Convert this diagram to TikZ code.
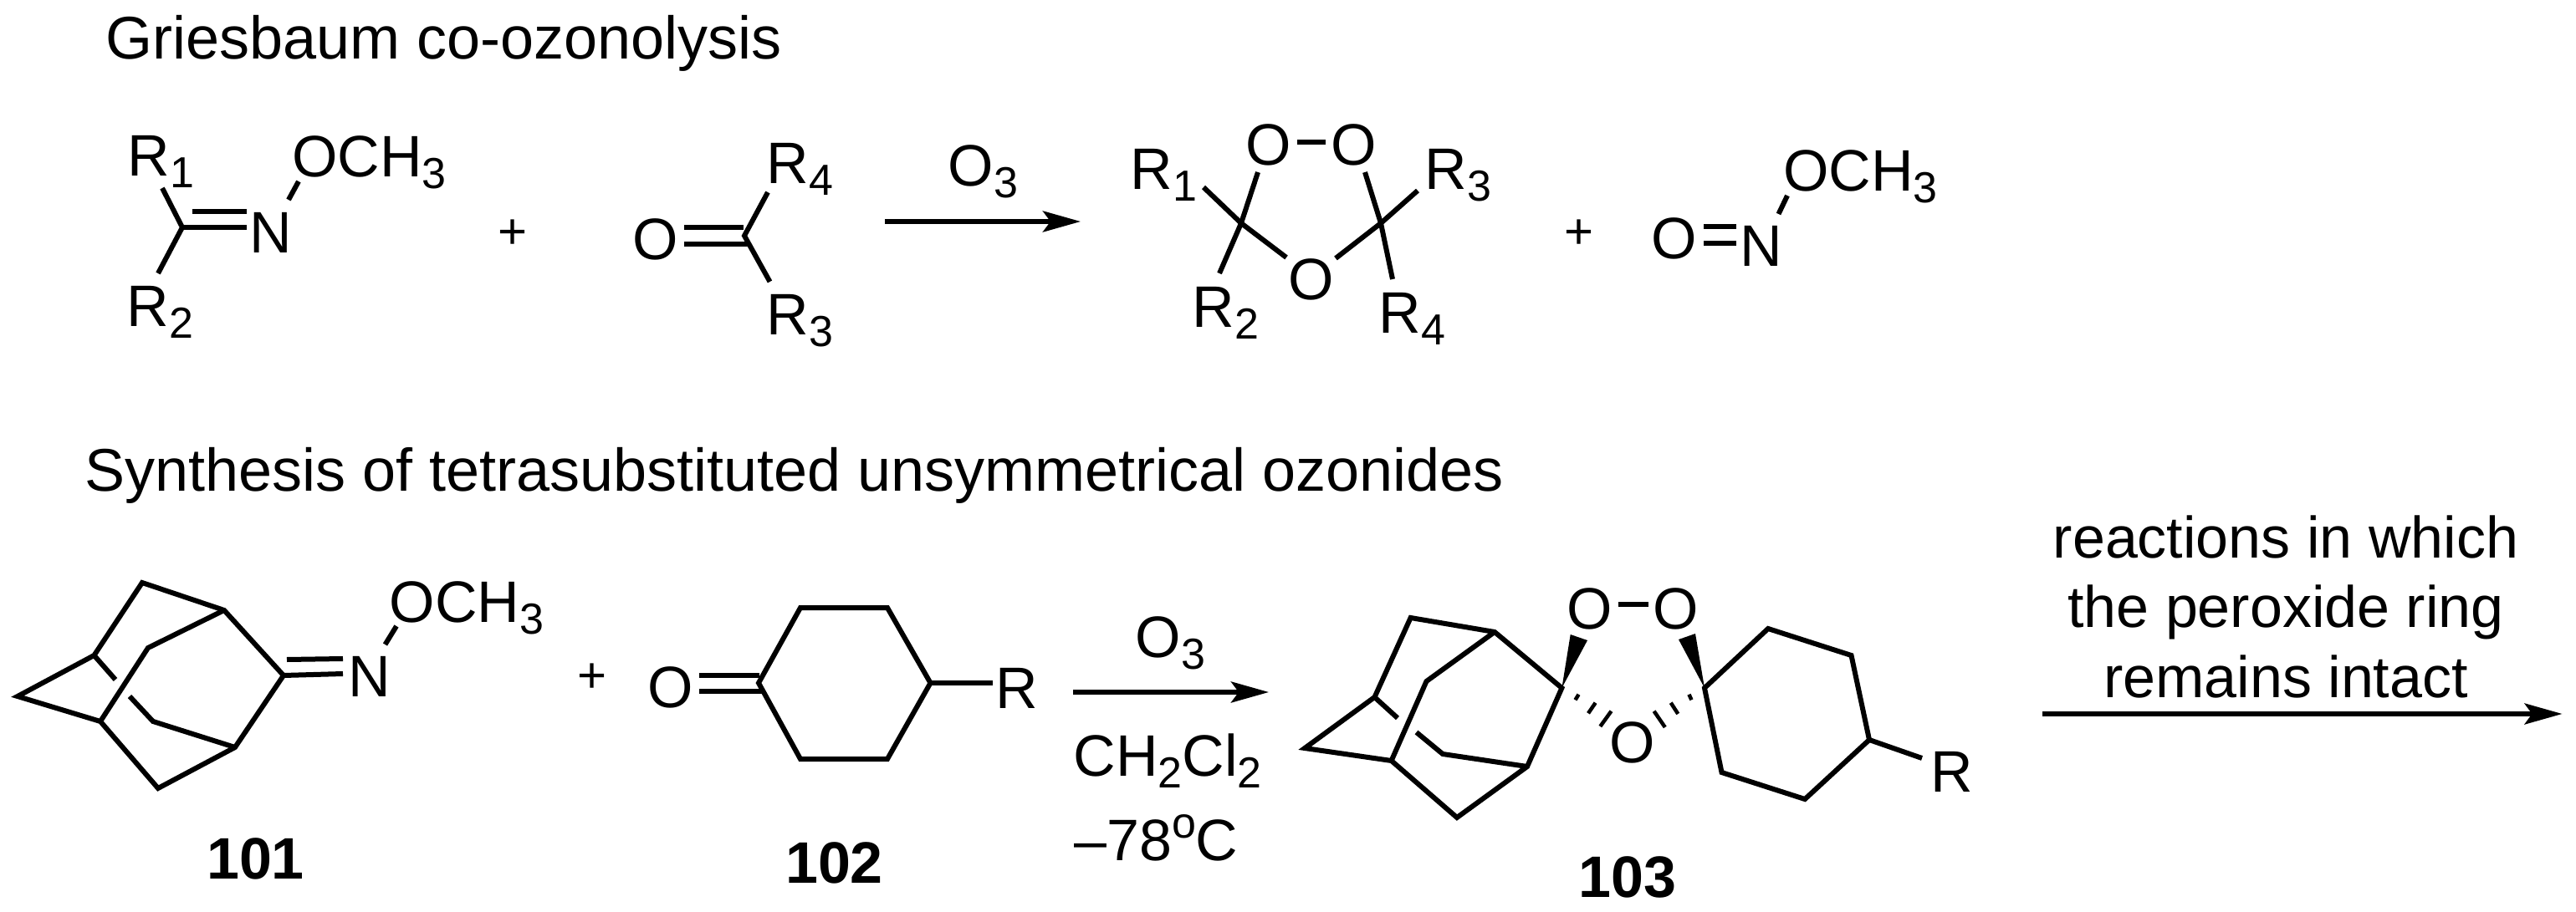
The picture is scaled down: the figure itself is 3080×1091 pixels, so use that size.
\documentclass[tikz,border=0pt]{standalone}
\usepackage{fontspec}
\setmainfont{Liberation Sans}
\usetikzlibrary{arrows.meta}
\newcommand\chemfont{\fontsize{70}{83.5}\selectfont}
\newcommand\titlefont{\fontsize{72}{84}\selectfont}
\newcommand\plusfont{\fontsize{60}{70}\selectfont}
\newcommand\Sub[1]{\raisebox{-14pt}{\fontsize{52}{60}\selectfont #1}}
\newcommand\Deg{\raisebox{27pt}{\fontsize{52}{60}\selectfont o}}
\tikzset{
  lbl/.style={inner sep=0pt,anchor=base west,font=\chemfont},
  ttl/.style={inner sep=0pt,anchor=base west,font=\titlefont},
  atom/.style={inner sep=0pt,anchor=base,font=\chemfont},
  cmpd/.style={inner sep=0pt,anchor=base,font=\chemfont\bfseries},
  plussign/.style={inner sep=0pt,anchor=center,font=\plusfont},
  bond/.style={line width=6pt,line join=miter,line cap=butt},
  hashbond/.style={line width=4.5pt,line cap=butt},
  wedgebond/.style={fill=black,draw=none},
  rxn/.style={line width=5.5pt,-{Stealth[length=45pt,width=25pt,inset=9pt]}}
}
\begin{document}
\begin{tikzpicture}[x=1pt,y=-1pt]
\path[use as bounding box,fill=white] (0,0) rectangle (3080,1091);
% titles
\node[ttl] (t1) at (126,71) {Griesbaum co-ozonolysis};
\node[ttl] (t2) at (101,587) {Synthesis of tetrasubstituted unsymmetrical ozonides};
% --- top: imine
\node[lbl] (R1a) at (152.5,211) {R\Sub{1}};
\node[lbl] (R2a) at (151.5,390) {R\Sub{2}};
\node[lbl] (Na) at (298.7,302) {N};
\node[lbl] (OMa) at (349,212) {OCH\Sub{3}};
\coordinate (Ca) at (218,272);
\coordinate (Ca1) at (194,225);
\coordinate (Ca2) at (189,327);
\coordinate (Nb1) at (230,253);
\coordinate (Nb2) at (295,253);
\coordinate (Nb3) at (295,272);
\coordinate (Oa1) at (345,239);
\coordinate (Oa2) at (357,217);
\draw[bond] (Ca1) -- (Ca) -- (Ca2);
\draw[bond] (Ca) -- (Nb3);
\draw[bond] (Nb1) -- (Nb2);
\draw[bond] (Oa1) -- (Oa2);
\node[plussign] (p1) at (613,280) {+};
% --- top: ketone
\node[atom] (Ob) at (784,310) {O};
\node[lbl] (R4b) at (916.5,220) {R\Sub{4}};
\node[lbl] (R3b) at (916.5,400) {R\Sub{3}};
\coordinate (Cb) at (890,282);
\coordinate (Cb1) at (918,230);
\coordinate (Cb2) at (920.5,337);
\coordinate (Ob1) at (818,272);
\coordinate (Ob2) at (889,272);
\coordinate (Ob3) at (818,292);
\coordinate (Ob4) at (896,292);
\draw[bond] (Cb1) -- (Cb) -- (Cb2);
\draw[bond] (Ob1) -- (Ob2);
\draw[bond] (Ob3) -- (Ob4);
% --- top arrow
\node[lbl] (O3a) at (1133.7,223) {O\Sub{3}};
\coordinate (A1s) at (1058,265);
\coordinate (A1e) at (1292,265);
\draw[rxn] (A1s) -- (A1e);
% --- top: ozonide
\node[lbl] (R1c) at (1351.5,227) {R\Sub{1}};
\node[lbl] (R2c) at (1425.5,391) {R\Sub{2}};
\node[lbl] (R3c) at (1703.5,227) {R\Sub{3}};
\node[lbl] (R4c) at (1648.5,398) {R\Sub{4}};
\node[atom] (O1c) at (1517,198) {O};
\node[atom] (O2c) at (1619,198) {O};
\node[atom] (O3c) at (1568,358) {O};
\coordinate (C1c) at (1484,267);
\coordinate (C2c) at (1651,267);
\coordinate (c1) at (1504,206);
\coordinate (c2) at (1439,224);
\coordinate (c3) at (1458,327);
\coordinate (c4) at (1538,308);
\coordinate (c5) at (1632,206);
\coordinate (c6) at (1695,228);
\coordinate (c7) at (1665,334);
\coordinate (c8) at (1597,309);
\coordinate (c9) at (1551,170);
\coordinate (c10) at (1585,170);
\draw[bond] (c1) -- (C1c) -- (c3);
\draw[bond] (c2) -- (C1c) -- (c4);
\draw[bond] (c5) -- (C2c) -- (c7);
\draw[bond] (c6) -- (C2c) -- (c8);
\draw[bond] (c9) -- (c10);
\node[plussign] (p2) at (1888,280) {+};
% --- top: nitrite
\node[atom] (Od) at (2001.5,309) {O};
\node[lbl] (Nd) at (2080.7,318) {N};
\node[lbl] (OMd) at (2132,229) {OCH\Sub{3}};
\coordinate (d1) at (2037,271);
\coordinate (d2) at (2076,271);
\coordinate (d3) at (2037,291);
\coordinate (d4) at (2076,291);
\coordinate (d5) at (2126.5,256);
\coordinate (d6) at (2137,234);
\draw[bond] (d1) -- (d2);
\draw[bond] (d3) -- (d4);
\draw[bond] (d5) -- (d6);
% --- bottom: 101
\coordinate (e1) at (21,833);
\coordinate (e2) at (112.5,784);
\coordinate (e3) at (170,697);
\coordinate (e4) at (268,730);
\coordinate (e5) at (177,775);
\coordinate (e6) at (120,863);
\coordinate (e7) at (339,808);
\coordinate (e8) at (281,894);
\coordinate (e9) at (183,863);
\coordinate (e10) at (189,943);
\coordinate (e11) at (138,813);
\coordinate (e12) at (155,833);
\coordinate (e13) at (343,789);
\coordinate (e14) at (410,788);
\coordinate (e15) at (410,806);
\coordinate (e16) at (460.5,771);
\coordinate (e17) at (474,749);
\draw[bond] (e1) -- (e2) -- (e3) -- (e4) -- (e7) -- (e8) -- (e10) -- (e6) -- cycle;
\draw[bond] (e4) -- (e5) -- (e6);
\draw[bond] (e2) -- (e11);
\draw[bond] (e12) -- (e9) -- (e8);
\draw[bond] (e7) -- (e15);
\draw[bond] (e13) -- (e14);
\draw[bond] (e16) -- (e17);
\node[lbl] (Ne) at (416.2,833) {N};
\node[lbl] (OMe) at (465.7,744) {OCH\Sub{3}};
\node[cmpd] (n101) at (305.5,1051) {101};
\node[plussign] (p3) at (708,811) {+};
% --- bottom: 102
\node[atom] (Of) at (801.5,846) {O};
\node[lbl] (Rf) at (1190.5,847) {R};
\coordinate (f1) at (907,817);
\coordinate (f2) at (957,727);
\coordinate (f3) at (1061,727);
\coordinate (f4) at (1112.5,817);
\coordinate (f5) at (1061,908);
\coordinate (f6) at (957,908);
\coordinate (f7) at (836,808);
\coordinate (f8) at (908,808);
\coordinate (f9) at (836,827);
\coordinate (f10) at (911,827);
\coordinate (f11) at (1187,817);
\draw[bond] (f1) -- (f2) -- (f3) -- (f4) -- (f5) -- (f6) -- cycle;
\draw[bond] (f7) -- (f8);
\draw[bond] (f9) -- (f10);
\draw[bond] (f4) -- (f11);
\node[cmpd] (n102) at (997.5,1056) {102};
% --- bottom arrow 1
\node[lbl] (O3b) at (1357.7,786) {O\Sub{3}};
\node[lbl] (solv) at (1283.5,928) {CH\Sub{2}Cl\Sub{2}};
\node[lbl] (temp) at (1284,1029) {–78\Deg C};
\coordinate (A2s) at (1283,828);
\coordinate (A2e) at (1517,828);
\draw[rxn] (A2s) -- (A2e);
% --- bottom: 103
\coordinate (g1) at (1560,895);
\coordinate (g2) at (1643.5,834);
\coordinate (g3) at (1686.6,739);
\coordinate (g4) at (1787,756);
\coordinate (g5) at (1705.5,815);
\coordinate (g6) at (1663.6,910);
\coordinate (g7) at (1867.4,823);
\coordinate (g8) at (1826,917);
\coordinate (g9) at (1725,902);
\coordinate (g10) at (1742,978);
\coordinate (g11) at (1671,859);
\coordinate (g12) at (1693.5,876);
\draw[bond] (g1) -- (g2) -- (g3) -- (g4) -- (g7) -- (g8) -- (g10) -- (g6) -- cycle;
\draw[bond] (g4) -- (g5) -- (g6);
\draw[bond] (g2) -- (g11);
\draw[bond] (g12) -- (g9) -- (g8);
\node[atom] (O1g) at (1900.7,752.7) {O};
\node[atom] (O2g) at (2004,752.7) {O};
\node[atom] (O3g) at (1952,912.7) {O};
\coordinate (g13) at (1935,723);
\coordinate (g14) at (1971,723);
\draw[bond] (g13) -- (g14);
\coordinate (w1) at (1877.7,759);
\coordinate (w2) at (1898,766);
\coordinate (w3) at (2027,758);
\coordinate (w4) at (2007,765);
\coordinate (h1) at (2038,823);
\fill[wedgebond] (g7) -- (w1) -- (w2) -- cycle;
\fill[wedgebond] (h1) -- (w3) -- (w4) -- cycle;
\coordinate (k1) at (1887.5,830.7);
\coordinate (k2) at (1883.5,837.3);
\coordinate (k3) at (1907.6,840.7);
\coordinate (k4) at (1899,853.3);
\coordinate (k5) at (1926.5,850.7);
\coordinate (k6) at (1913.3,869);
\coordinate (k7) at (2019.5,830.7);
\coordinate (k8) at (2022.4,837.3);
\coordinate (k9) at (1997.7,840.7);
\coordinate (k10) at (2006.3,854);
\coordinate (k11) at (1977.6,850.7);
\coordinate (k12) at (1990.8,870);
\draw[hashbond] (k1) -- (k2);
\draw[hashbond] (k3) -- (k4);
\draw[hashbond] (k5) -- (k6);
\draw[hashbond] (k7) -- (k8);
\draw[hashbond] (k9) -- (k10);
\draw[hashbond] (k11) -- (k12);
\coordinate (h2) at (2114,752);
\coordinate (h3) at (2213.5,784);
\coordinate (h4) at (2235,885);
\coordinate (h5) at (2158,956);
\coordinate (h6) at (2058.5,924);
\coordinate (h7) at (2298,907);
\draw[bond] (h1) -- (h2) -- (h3) -- (h4) -- (h5) -- (h6) -- cycle;
\draw[bond] (h4) -- (h7);
\node[lbl] (Rg) at (2308.5,947) {R};
\node[cmpd] (n103) at (1945.6,1073) {103};
% --- bottom arrow 2
\node[inner sep=0pt,anchor=south,align=center,font=\chemfont] (cond) at (2733,835) {reactions in which\\the peroxide ring\\remains intact};
\coordinate (A3s) at (2442,854);
\coordinate (A3e) at (3063.5,854);
\draw[rxn] (A3s) -- (A3e);
\end{tikzpicture}
\end{document}
